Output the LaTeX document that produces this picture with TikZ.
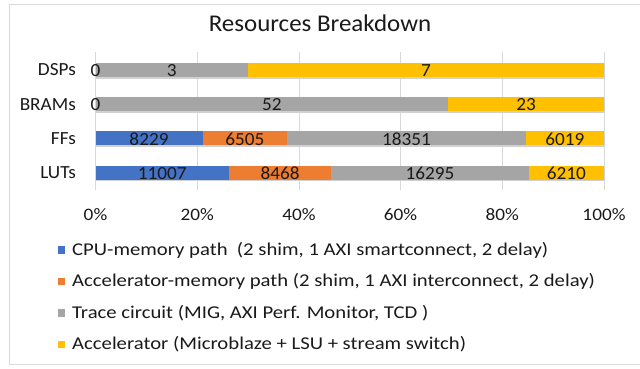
\documentclass[tikz,border=0pt]{standalone}
\usepackage{fontspec}
\setmainfont{Carlito}[FakeStretch=1.04]
\newfontfamily\keyfont{Carlito}[FakeStretch=1.15]
\newfontfamily\tickfont{Carlito}[FakeStretch=1.1]
\definecolor{cpublue}{HTML}{4472C4}
\definecolor{accorange}{HTML}{ED7D31}
\definecolor{tracegray}{HTML}{A5A5A5}
\definecolor{accyellow}{HTML}{FFC000}
\definecolor{gridgray}{HTML}{D9D9D9}
\definecolor{txt}{HTML}{1A1A1A}

\begin{document}
\begin{tikzpicture}[x=1pt,y=-1pt]
\tikzstyle{every node}=[inner sep=0pt, text=txt, font=\fontsize{18.5}{18.5}\selectfont]
\tikzstyle{cat}=[anchor=east]
\tikzstyle{tick}=[font=\tickfont\fontsize{17.5}{17.5}\selectfont]
\tikzstyle{key}=[anchor=west, font=\keyfont\fontsize{18}{18}\selectfont]
\tikzstyle{keybox}=[minimum size=7.5pt]
\tikzstyle{grid}=[draw=gridgray, line width=0.8pt]
\tikzstyle{shade}=[fill=black!18]
\useasboundingbox (0,0) rectangle (640,368);
\fill[white] (0,0) rectangle (640,368);
\draw[black!15] (640,4) -- (9,4) -- (9,364.5) -- (640,364.5);

% title
\node at (320,23) [font=\fontsize{24}{24}\selectfont] (title) {Resources Breakdown};

% grid lines
\draw[grid]
(95.5,52) -- (95.5,190)  (197.2,52) -- (197.2,190)  (298.9,52) -- (298.9,190)
(400.6,52) -- (400.6,190)  (502.3,52) -- (502.3,190)  (604,52) -- (604,190);

% bar shadows
\fill[shade] (96.3,64.5) rectangle (604.8,78.5);
\fill[shade] (96.3,98.7) rectangle (604.8,112.7);
\fill[shade] (96.3,132.9) rectangle (604.8,146.9);
\fill[shade] (96.3,167.1) rectangle (604.8,181.1);

% DSPs
\fill[tracegray] (95.5,63) rectangle (248.05,77);
\fill[accyellow] (248.05,63) rectangle (604,77);
% BRAMs
\fill[tracegray] (95.5,97.2) rectangle (448.06,111.2);
\fill[accyellow] (448.06,97.2) rectangle (604,111.2);
% FFs
\fill[cpublue] (95.5,131.4) rectangle (202.51,145.4);
\fill[accorange] (202.51,131.4) rectangle (287.10,145.4);
\fill[tracegray] (287.10,131.4) rectangle (525.73,145.4);
\fill[accyellow] (525.73,131.4) rectangle (604,145.4);
% LUTs
\fill[cpublue] (95.5,165.6) rectangle (228.83,179.6);
\fill[accorange] (228.83,165.6) rectangle (331.40,179.6);
\fill[tracegray] (331.40,165.6) rectangle (528.78,179.6);
\fill[accyellow] (528.78,165.6) rectangle (604,179.6);

% categories
\node at (76,70) [cat] (dsps) {DSPs};
\node at (76,104.2) [cat] (brams) {BRAMs};
\node at (76,138.4) [cat] (ffs) {FFs};
\node at (76,172.6) [cat] (luts) {LUTs};

% values
\node at (95.5,70.5) (dsp0) {0};
\node at (171.8,70.5) (dsp3) {3};
\node at (426,70.5) (dsp7) {7};
\node at (95.5,104.7) (bram0) {0};
\node at (271.8,104.7) (bram52) {52};
\node at (526,104.7) (bram23) {23};
\node at (149,138.9) (ff8229) {8229};
\node at (244.8,138.9) (ff6505) {6505};
\node at (406.4,138.9) (ff18351) {18351};
\node at (564.9,138.9) (ff6019) {6019};
\node at (162.2,173.1) (lut11007) {11007};
\node at (280.1,173.1) (lut8468) {8468};
\node at (430.1,173.1) (lut16295) {16295};
\node at (566.4,173.1) (lut6210) {6210};

% axis
\node at (95.5,215) [tick] (p0) {0\%};
\node at (197.2,215) [tick] (p20) {20\%};
\node at (298.9,215) [tick] (p40) {40\%};
\node at (400.6,215) [tick] (p60) {60\%};
\node at (502.3,215) [tick] (p80) {80\%};
\node at (604,215) [tick] (p100) {100\%};

% legend
\node at (61.5,250) [keybox, fill=cpublue] (k1) {};
\node at (61.5,281.5) [keybox, fill=accorange] (k2) {};
\node at (61.5,313) [keybox, fill=tracegray] (k3) {};
\node at (61.5,344.5) [keybox, fill=accyellow] (k4) {};
\node at (72,250) [key] (l1) {CPU-memory path\ \ (2 shim, 1 AXI smartconnect, 2 delay)};
\node at (72,281.5) [key] (l2) {Accelerator-memory path (2 shim, 1 AXI interconnect, 2 delay)};
\node at (72,313) [key] (l3) {Trace circuit (MIG, AXI Perf. Monitor, TCD )};
\node at (72,344.5) [key] (l4) {Accelerator (Microblaze + LSU + stream switch)};
\end{tikzpicture}
\end{document}
